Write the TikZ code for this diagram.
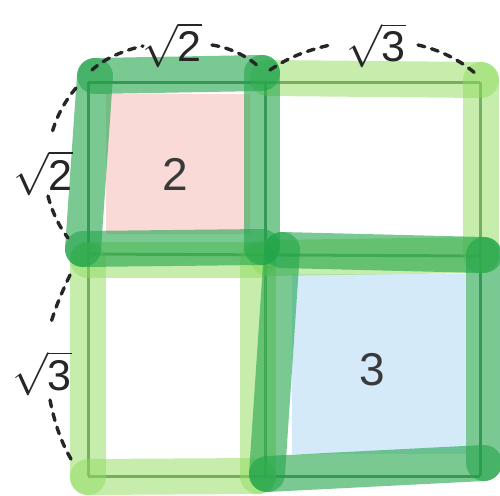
\documentclass[tikz,border=0pt]{standalone}
\usepackage{fix-cm}
\usepackage{fontspec}
\setmainfont{Liberation Sans}
\definecolor{dk}{HTML}{22A54B}
\definecolor{lt}{HTML}{8FDB5C}
\definecolor{pinkf}{HTML}{FADAD7}
\definecolor{bluef}{HTML}{D4EAF8}
\definecolor{gridc}{HTML}{3B6E48}
\definecolor{txt}{HTML}{3A3A3A}
\newcommand{\rad}[1]{$\sqrt{\hbox{#1}}$}
\tikzset{
  gridline/.style={draw=gridc, line width=3pt, opacity=0.85},
  lthl/.style={draw=lt, line width=36pt, opacity=0.5, line cap=round},
  dkhl/.style={draw=dk, line width=36pt, opacity=0.6, line cap=round},
  dsh/.style={draw=black!85, line width=3.4pt, dash pattern=on 7pt off 7pt, line cap=round},
  lbl/.style={text=black!85, inner sep=0pt, anchor=base, font=\fontsize{43}{43}\selectfont},
  num/.style={text=txt, inner sep=0pt, font=\fontsize{46}{46}\selectfont}
}
\begin{document}
\begin{tikzpicture}[x=1pt,y=-1pt, line join=round]
\useasboundingbox (0,0) rectangle (500,495);
% fills
\fill[pinkf] (106,94) rectangle (250,234);
\fill[bluef] (292,274) rectangle (466,454);
% grid
\draw[gridline] (88,82) -- (480,82);
\draw[gridline] (88,254) -- (480,256);
\draw[gridline] (88,476) -- (480,476);
\draw[gridline] (88,82) -- (88,476);
\draw[gridline] (265,82) -- (265,476);
\draw[gridline] (480,82) -- (480,476);
% light highlights
\draw[lthl] (268,78) -- (481,80);
\draw[lthl] (481,80) -- (481,255);
\draw[lthl] (481,255) -- (268,258);
\draw[lthl] (88,260) -- (258,260);
\draw[lthl] (258,260) -- (258,476);
\draw[lthl] (258,476) -- (88,477);
\draw[lthl] (88,477) -- (88,260);
% dark highlights
\draw[dkhl] (95,76) -- (262,73);
\draw[dkhl] (262,73) -- (262,247);
\draw[dkhl] (262,247) -- (83,249);
\draw[dkhl] (83,249) -- (95,76);
\draw[dkhl] (282,250) -- (484,255);
\draw[dkhl] (484,255) -- (484,463);
\draw[dkhl] (484,463) -- (267,474);
\draw[dkhl] (267,474) -- (282,250);
% numbers
\node[num] (n2) at (175,174) {2};
\node[num] (n3) at (372,370) {3};
% labels
\node[lbl] (lt2) at (172,62) {\rad{2}};
\node[lbl] (lt3) at (376,62) {\rad{3}};
\node[lbl] (ll2) at (43,190) {\rad{2}};
\node[lbl] (ll3) at (42,390) {\rad{3}};
% dashed arcs
\draw[dsh] (92,70) .. controls (105,58) and (125,50) .. (143,46);
\draw[dsh] (212,45) .. controls (232,48) and (250,58) .. (260,68);
\draw[dsh] (270,70) .. controls (285,60) and (300,52) .. (330,45);
\draw[dsh] (418,45) .. controls (440,50) and (460,60) .. (476,74);
\draw[dsh] (76,88) .. controls (64,102) and (56,118) .. (52,133);
\draw[dsh] (48,196) .. controls (52,212) and (60,228) .. (68,238);
\draw[dsh] (70,275) .. controls (62,292) and (55,308) .. (50,326);
\draw[dsh] (50,400) .. controls (55,425) and (62,445) .. (74,464);
\end{tikzpicture}
\end{document}
